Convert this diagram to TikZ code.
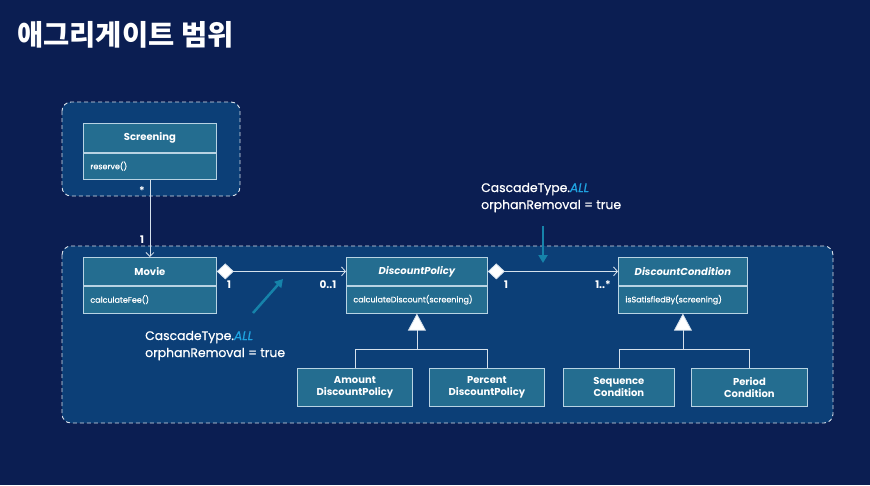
\documentclass[tikz,border=0pt]{standalone}
\usepackage{fontspec}
\setmainfont{Poppins}
\newfontfamily\medfont{Poppins}[FakeBold=0.7]
\newfontfamily\krfont{Noto Sans CJK KR}
\usetikzlibrary{arrows.meta}
\definecolor{bg}{HTML}{0B1E52}
\definecolor{zone}{HTML}{0C3F77}
\definecolor{clsfill}{HTML}{246D90}
\definecolor{clsline}{HTML}{B8D3E3}
\definecolor{wire}{HTML}{D5E1EC}
\definecolor{note}{HTML}{1683AA}
\definecolor{accent}{HTML}{1FA2E0}
\tikzset{
  zonebox/.style={draw=white!85!zone, fill=zone, line width=0.9pt, dash pattern=on 4pt off 3pt, rounded corners=9pt},
  hdr/.style={draw=clsline, fill=clsfill, line width=0.8pt, text=white, font=\fontsize{10}{12}\selectfont\bfseries, anchor=north west, inner sep=0pt},
  bdy/.style={draw=clsline, fill=clsfill, line width=0.8pt, text=white, font=\medfont\fontsize{8}{10}\selectfont, anchor=north west, inner xsep=7pt, inner ysep=0pt, align=left},
  sub/.style={draw=clsline, fill=clsfill, line width=0.8pt, text=white, font=\fontsize{10}{12}\selectfont\bfseries, anchor=north west, inner sep=0pt, align=center, minimum height=38pt},
  wire/.style={draw=wire, line width=0.8pt},
  mult/.style={text=white, font=\fontsize{10.5}{12}\selectfont\bfseries, inner sep=0pt},
  comp/.style={wire, {Diamond[fill=white,length=17pt,width=16pt]}-{Straight Barb[length=4pt,width=9pt]}},
  inh/.style={wire, {Triangle[fill=white,length=17pt,width=18pt]}-},
  notearrow/.style={draw=note, line width=2.5pt, -{Triangle[length=8pt,width=9pt]}},
  notetext/.style={text=white, font=\medfont\fontsize{12.4}{17}\selectfont, anchor=base west, inner sep=0pt}
}
\begin{document}
\begin{tikzpicture}[x=1pt,y=-1pt]
\fill[bg] (0,0) rectangle (870,485);
\useasboundingbox (0,0) rectangle (870,485);

% title
\node[anchor=base west, inner sep=0pt, text=white] (title) at (17,45) {\krfont\bfseries\fontsize{28.5}{33}\selectfont 애그리게이트 범위};

% aggregate zones
\draw[zonebox] (62,102) rectangle (240,196);
\draw[zonebox] (62,246) rectangle (833,423);

% Screening
\node[hdr, minimum width=133pt, minimum height=29pt] (scrH) at (83,123) {Screening};
\node[bdy, text width=119pt, minimum height=26pt] (scrB) at (scrH.south west) {reserve()};

% Movie
\node[hdr, minimum width=133pt, minimum height=28pt] (movH) at (83,257) {Movie};
\node[bdy, text width=119pt, minimum height=27pt] (movB) at (movH.south west) {calculateFee()};

% DiscountPolicy
\node[hdr, minimum width=141pt, minimum height=28pt] (dpH) at (346,257) {\itshape DiscountPolicy};
\node[bdy, text width=127pt, minimum height=27pt] (dpB) at (dpH.south west) {calculateDiscount(screening)};

% DiscountCondition
\node[hdr, minimum width=129pt, minimum height=28pt] (dcH) at (618,257) {\itshape DiscountCondition};
\node[bdy, text width=115pt, minimum height=27pt] (dcB) at (dcH.south west) {isSatisfiedBy(screening)};

% subclasses
\node[sub, minimum width=115pt] (amt) at (297,368) {Amount\\DiscountPolicy};
\node[sub, minimum width=115pt] (pct) at (429,368) {Percent\\DiscountPolicy};
\node[sub, minimum width=111pt] (seq) at (563,368) {Sequence\\Condition};
\node[sub, minimum width=116pt] (per) at (691,368) {Period\\Condition};

% associations
\draw[wire, -{Straight Barb[length=4pt,width=8pt]}] (scrB.south) -- (movH.north);
\node[mult] (m1) at (142,191) {*};
\node[mult] (m2) at (142,240) {1};

\draw[comp] (movH.east) -- (dpH.west);
\node[mult] (m3) at (229,285) {1};
\node[mult] (m4) at (328,285) {0..1};

\draw[comp] (dpH.east) -- (dcH.west);
\node[mult] (m5) at (506,285) {1};
\node[mult] (m6) at (603,285) {1..*};

% generalizations
\path (dpB.south) ++(0,36) coordinate (j1);
\path (dcB.south) ++(0,36) coordinate (j2);
\draw[inh] (dpB.south) -- (j1);
\draw[wire] (amt.north) |- (j1) -| (pct.north);
\draw[inh] (dcB.south) -- (j2);
\draw[wire] (seq.north) |- (j2) -| (per.north);

% cascade notes
\node[notetext] (n1a) at (145,340) {CascadeType.\textcolor{accent}{\itshape ALL}};
\node[notetext] (n1b) at (145,357) {orphanRemoval = true};
\coordinate (n1s) at (253,313);
\coordinate (n1e) at (283,279);
\draw[notearrow] (n1s) -- (n1e);

\node[notetext] (n2a) at (481,192) {CascadeType.\textcolor{accent}{\itshape ALL}};
\node[notetext] (n2b) at (481,209) {orphanRemoval = true};
\coordinate (n2s) at (543,226);
\coordinate (n2e) at (543,263);
\draw[notearrow] (n2s) -- (n2e);
\end{tikzpicture}
\end{document}
